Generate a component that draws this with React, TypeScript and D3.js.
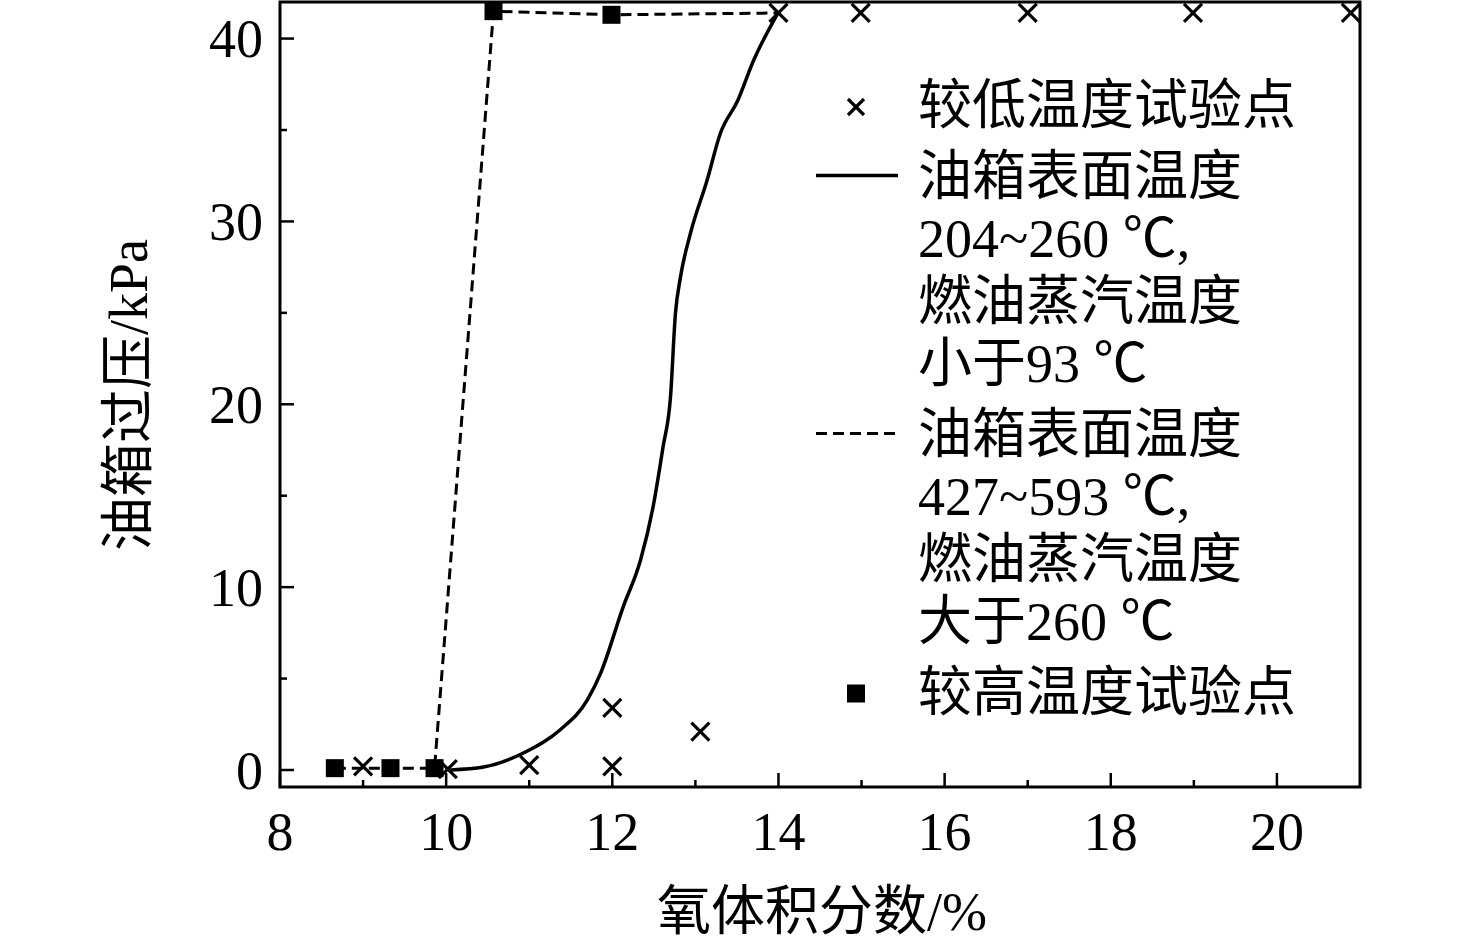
import * as d3 from "d3";

const W = 1476;
const H = 950;

// 较低温度试验点 (× markers)
const lowX = [9.0, 10.02, 11.0, 12.0, 12.0, 13.06, 14.0, 14.99, 17.0, 18.99, 20.89];
const lowY = [0.2, 0.05, 0.27, 0.2, 3.4, 2.1, 41.4, 41.4, 41.4, 41.4, 41.4];

// 较高温度试验点 (■ markers)
const highX = [8.66, 9.33, 9.86, 10.57, 11.99];
const highY = [0.1, 0.1, 0.1, 41.5, 41.3];

// dashed line: 427~593 ℃
const dashX = [8.66, 9.33, 9.86, 10.57, 11.99, 14.0];
const dashY = [0.1, 0.1, 0.1, 41.5, 41.3, 41.4];

// solid curve: 204~260 ℃
const solidX = [10.05, 10.45, 10.93, 11.37, 11.7, 11.86, 12.13, 12.34, 12.49, 12.61, 12.7, 12.76, 12.82, 12.94, 13.14, 13.3, 13.51, 13.7, 13.99];
const solidY = [0.0, 0.16, 0.93, 2.19, 3.83, 5.3, 8.91, 11.48, 14.37, 17.65, 20.38, 24.97, 26.94, 29.34, 32.24, 34.81, 36.61, 38.8, 41.37];

const xTicks = [8, 10, 12, 14, 16, 18, 20];
const xMinor = [9, 11, 13, 15, 17, 19];
const yTicks = [0, 10, 20, 30, 40];
const yMinor = [5, 15, 25, 35];

const legendRows = [
  { kind: "x", lines: ["较低温度试验点"] },
  { kind: "solid", lines: ["油箱表面温度", "204~260 ℃,", "燃油蒸汽温度", "小于93 ℃"] },
  { kind: "dash", lines: ["油箱表面温度", "427~593 ℃,", "燃油蒸汽温度", "大于260 ℃"] },
  { kind: "square", lines: ["较高温度试验点"] },
];

const font = "'Liberation Serif', 'Noto Sans CJK SC', serif";
const fs = 54;

const left = 280;
const right = 1360;
const top = 2;
const bottom = 787;

function Cross({ cx, cy, r = 9 }: { cx: number; cy: number; r?: number }) {
  return (
    <g stroke="#000" strokeWidth={3.2}>
      <line x1={cx - r} y1={cy - r} x2={cx + r} y2={cy + r} />
      <line x1={cx - r} y1={cy + r} x2={cx + r} y2={cy - r} />
    </g>
  );
}

export default function App() {
  const x = d3.scaleLinear().domain([8, 21]).range([left, right]);
  const y = d3.scaleLinear().domain([-0.93, 42]).range([bottom, top]);

  const solid = d3
    .line<number>()
    .x((_, i) => x(solidX[i]))
    .y((_, i) => y(solidY[i]))
    .curve(d3.curveMonotoneX)(solidX);

  const dash = d3
    .line<number>()
    .x((_, i) => x(dashX[i]))
    .y((_, i) => y(dashY[i]))(dashX);

  // legend layout
  const legendTop = 105;
  const lineGap = 62.5;
  const groupGap = 8;
  let cursor = legendTop;
  const rows = legendRows.map((r, gi) => {
    if (gi > 0) cursor += groupGap;
    const ys = r.lines.map(() => {
      const v = cursor;
      cursor += lineGap;
      return v;
    });
    return { ...r, ys };
  });

  return (
    <svg
      width={W}
      height={H}
      style={{ position: "absolute", left: 0, top: 0, background: "#fff" }}
      fontFamily={font}
    >
      <defs>
        <clipPath id="plot">
          <rect x={left} y={top - 20} width={right - left} height={bottom - top + 20} />
        </clipPath>
      </defs>

      {/* ticks */}
      {xTicks.map((t) => (
        <g key={"xt" + t}>
          <line x1={x(t)} x2={x(t)} y1={bottom} y2={bottom - 14} stroke="#000" strokeWidth={2.5} />
          <text x={x(t)} y={850} fontSize={fs} textAnchor="middle">
            {t}
          </text>
        </g>
      ))}
      {xMinor.map((t) => (
        <line key={"xm" + t} x1={x(t)} x2={x(t)} y1={bottom} y2={bottom - 7} stroke="#000" strokeWidth={2.5} />
      ))}
      {yTicks.map((t) => (
        <g key={"yt" + t}>
          <line x1={left} x2={left + 14} y1={y(t)} y2={y(t)} stroke="#000" strokeWidth={2.5} />
          <text x={263} y={y(t)} dy="0.35em" fontSize={fs} textAnchor="end">
            {t}
          </text>
        </g>
      ))}
      {yMinor.map((t) => (
        <line key={"ym" + t} x1={left} x2={left + 7} y1={y(t)} y2={y(t)} stroke="#000" strokeWidth={2.5} />
      ))}

      {/* frame */}
      <rect x={left} y={top} width={right - left} height={bottom - top} fill="none" stroke="#000" strokeWidth={3} />

      {/* axis titles */}
      <text x={822} y={930} fontSize={fs} textAnchor="middle">
        氧体积分数/%
      </text>
      <text transform={`translate(147,395) rotate(-90)`} fontSize={fs} textAnchor="middle">
        油箱过压/kPa
      </text>

      {/* data */}
      <g clipPath="url(#plot)">
        <path d={dash ?? ""} fill="none" stroke="#000" strokeWidth={3} strokeDasharray="11 6" />
        <path d={solid ?? ""} fill="none" stroke="#000" strokeWidth={3.5} />
        {lowX.map((v, i) => (
          <Cross key={"lx" + i} cx={x(v)} cy={y(lowY[i])} />
        ))}
        {highX.map((v, i) => (
          <rect key={"hx" + i} x={x(v) - 9} y={y(highY[i]) - 9} width={18} height={18} fill="#000" />
        ))}
      </g>

      {/* legend */}
      {rows.map((r, gi) => (
        <g key={"lg" + gi}>
          {r.kind === "x" && <Cross cx={856} cy={r.ys[0] + 2} r={8} />}
          {r.kind === "square" && <rect x={847} y={r.ys[0] - 7} width={18} height={18} fill="#000" />}
          {r.kind === "solid" && <line x1={816} x2={898} y1={r.ys[0]} y2={r.ys[0]} stroke="#000" strokeWidth={3.5} />}
          {r.kind === "dash" && (
            <line x1={816} x2={898} y1={r.ys[0]} y2={r.ys[0]} stroke="#000" strokeWidth={3} strokeDasharray="11 6" />
          )}
          {r.lines.map((s, li) => (
            <text key={li} x={918} y={r.ys[li]} dy="0.36em" fontSize={fs}>
              {s}
            </text>
          ))}
        </g>
      ))}
    </svg>
  );
}
